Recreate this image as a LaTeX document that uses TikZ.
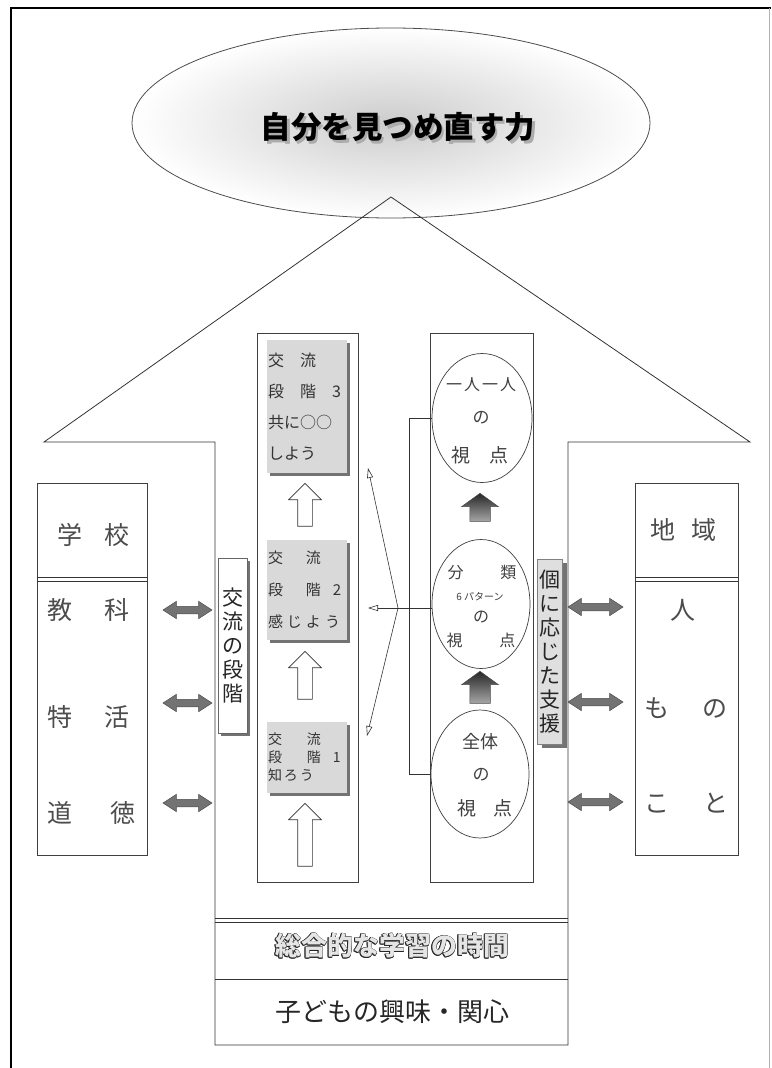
\documentclass[tikz,border=0pt]{standalone}
\usepackage{fontspec}
\setmainfont{Noto Sans CJK JP}
\usetikzlibrary{shapes.geometric,shapes.arrows,arrows.meta,shadows}
\newcommand{\shadowtext}[1]{\makebox[0pt][l]{\hspace{2.5pt}\raisebox{-3pt}{\textcolor{gray!65}{#1}}}#1}
\newcommand{\outltext}[1]{%
  \makebox[0pt][l]{\hspace{-0.9pt}\textcolor{black!85}{#1}}%
  \makebox[0pt][l]{\hspace{0.9pt}\textcolor{black!85}{#1}}%
  \makebox[0pt][l]{\raisebox{0.9pt}{\textcolor{black!85}{#1}}}%
  \makebox[0pt][l]{\raisebox{-0.9pt}{\textcolor{black!85}{#1}}}%
  \makebox[0pt][l]{\hspace{0.7pt}\raisebox{0.7pt}{\textcolor{black!85}{#1}}}%
  \makebox[0pt][l]{\hspace{-0.7pt}\raisebox{-0.7pt}{\textcolor{black!85}{#1}}}%
  \makebox[0pt][l]{\hspace{0.7pt}\raisebox{-0.7pt}{\textcolor{black!85}{#1}}}%
  \makebox[0pt][l]{\hspace{-0.7pt}\raisebox{0.7pt}{\textcolor{black!85}{#1}}}%
  \textcolor{gray!20}{#1}}
\begin{document}
\begin{tikzpicture}[x=1pt,y=-1pt,
  ln/.style={draw=black!80, line width=0.8pt},
  wbox/.style={draw=black!75, line width=0.8pt, fill=white, inner sep=0pt},
  gbox/.style={fill=gray!30, inner xsep=1pt, inner ysep=2pt, align=left, text=black!80, text width=78pt,
    minimum width=80pt,
    drop shadow={shadow xshift=3pt, shadow yshift=-3pt, fill=black!55, opacity=1}},
  hollowup/.style={single arrow, shape border rotate=90, draw=black!80, line width=0.7pt,
    fill=white, inner sep=7pt, single arrow head extend=9pt, single arrow tip angle=90},
  darkup/.style={single arrow, shape border rotate=90, draw=black!70, line width=0.5pt,
    top color=black!85, bottom color=black!35, inner sep=10pt, single arrow head extend=8pt,
    single arrow tip angle=108},
  dblarrow/.style={double arrow, draw=black!70, fill=black!55, line width=0.5pt,
    inner sep=3.5pt, double arrow head extend=5pt, double arrow tip angle=66},
  view/.style={ellipse, draw=black!75, line width=0.7pt, fill=white, inner sep=0pt},
  vtxt/.style={text=black!75, align=center, inner sep=0pt},
  side/.style={text=black!70, inner sep=0pt, font=\fontsize{25}{25}\selectfont},
  vlabel/.style={inner sep=0pt, align=center, font=\fontsize{21}{24}\selectfont, text=black!85},
  fanarrow/.style={draw=black!80, line width=0.6pt, -{Triangle[open, length=10pt, width=6pt]}}
]
\useasboundingbox (0,0) rectangle (771,1068);
% frame
\draw[black, line width=1.6pt] (11,1068) -- (11,8) -- (771,8);
\draw[gray!60, line width=0.8pt] (769,8) -- (769,1068);

% goal ellipse
\node[ellipse, draw=black!70, line width=0.8pt, inner color=gray!40, outer color=white,
  minimum width=518pt, minimum height=190pt, inner sep=0pt] (goal) at (391,123) {};
\node[font=\bfseries\fontsize{30.5}{30.5}\selectfont, text=black] (title) at (398,128) {\shadowtext{自分を見つめ直す力}};

% house outline
\coordinate (apex) at (391,197);
\draw[ln] (215,1045) -- (215,442) -- (44,442) -- (apex) -- (750,442) -- (568,442) -- (568,1045) -- cycle;
\draw[ln] (215,918) -- (568,918);
\draw[ln] (215,922) -- (568,922);
\draw[ln] (215,979) -- (568,979);

% bottom texts
\node[font=\bfseries\fontsize{26}{26}\selectfont] (sougou) at (392,946) {\outltext{総合的な学習の時間}};
\node[font=\fontsize{26}{26}\selectfont, text=black!85] (kodomo) at (392,1012) {子どもの興味・関心};

% left: school box
\node[wbox, minimum width=110pt, minimum height=372pt] (school) at (92,669) {};
\draw[ln] (school.west |- 0,577) -- (school.east |- 0,577);
\draw[ln] (school.west |- 0,581) -- (school.east |- 0,581);
\node[side] (gakkou) at (93.5,535) {学\hspace{22pt}校};
\node[side] (kyouka) at (88.5,610) {教\hspace{32pt}科};
\node[side] (tokkatsu) at (88.5,717) {特\hspace{32pt}活};
\node[side] (doutoku) at (91.5,813) {道\hspace{38pt}徳};

% right: region box
\node[wbox, minimum width=103pt, minimum height=372pt] (region) at (686.5,669) {};
\draw[ln] (region.west |- 0,577) -- (region.east |- 0,577);
\draw[ln] (region.west |- 0,581) -- (region.east |- 0,581);
\node[side] (chiiki) at (683,530) {地\hspace{16pt}域};
\node[side] (hito) at (683,610) {人};
\node[side] (mono) at (686,708) {も\hspace{33pt}の};
\node[side] (koto) at (686.5,803) {こ\hspace{34pt}と};

% double arrows
\node[dblarrow, minimum height=49pt] (dl1) at (187.5,610) {};
\node[dblarrow, minimum height=49pt] (dl2) at (187.5,703) {};
\node[dblarrow, minimum height=49pt] (dl3) at (187.5,803) {};
\node[dblarrow, minimum height=55pt] (dr1) at (595.5,607) {};
\node[dblarrow, minimum height=55pt] (dr2) at (595.5,702) {};
\node[dblarrow, minimum height=55pt] (dr3) at (595.5,802) {};

% vertical labels
\node[wbox, draw=black!60, minimum width=29pt, minimum height=175pt,
  drop shadow={shadow xshift=3pt, shadow yshift=-3pt, fill=black!55, opacity=1}] (lblL) at (232.5,645.5) {};
\node[vlabel] (lblLtxt) at (lblL) {交\\流\\の\\段\\階};
\node[draw=black!50, fill=gray!25, inner sep=0pt, minimum width=25pt, minimum height=185pt,
  drop shadow={shadow xshift=4pt, shadow yshift=-3pt, fill=black!55, opacity=1}] (lblR) at (550,652) {};
\node[vlabel] (lblRtxt) at (lblR) {個\\に\\応\\じ\\た\\支\\援};

% exchange column
\node[wbox, minimum width=101pt, minimum height=549pt] (colL) at (307.5,607.5) {};
\node[gbox, minimum height=133pt, font=\fontsize{16}{31}\selectfont] (stage3) at (307,406.5)
  {交　流\\段　階　3\\共に○○\\しよう};
\node[gbox, minimum height=100pt, font=\fontsize{15}{32}\selectfont] (stage2) at (307,590)
  {交\hspace{23pt}流\\段\hspace{23pt}階\hspace{12pt}2\\感\hspace{4pt}じ\hspace{4pt}よ\hspace{4pt}う};
\node[gbox, minimum height=71pt, font=\fontsize{14}{18}\selectfont] (stage1) at (307,757.5)
  {交\hspace{25pt}流\\段\hspace{25pt}階\hspace{12pt}1\\知\hspace{2pt}ろ\hspace{2pt}う};
\node[hollowup, minimum height=43pt] (up1) at (305,508.5) {};
\node[hollowup, minimum height=48pt] (up2) at (305,679) {};
\node[hollowup, minimum height=63pt] (up3) at (305,838.5) {};

% viewpoint column
\node[wbox, minimum width=103pt, minimum height=549pt] (colR) at (481.5,607.5) {};
\node[view, minimum width=100pt, minimum height=129pt] (e1) at (482,418) {};
\node[view, minimum width=98pt, minimum height=129pt] (e2) at (481,604) {};
\node[view, minimum width=98pt, minimum height=128pt] (e3) at (480,774) {};
\node[vtxt, font=\fontsize{16}{16}\selectfont] (e1a) at (481,385) {一\hspace{2pt}人\hspace{2pt}一\hspace{2pt}人};
\node[vtxt, font=\fontsize{17}{17}\selectfont] (e1b) at (481,418) {の};
\node[vtxt, font=\fontsize{19}{19}\selectfont] (e1c) at (480,455) {視\hspace{20pt}点};
\node[vtxt, font=\fontsize{16}{16}\selectfont] (e2a) at (482,573) {分\hspace{37pt}類};
\node[vtxt, font=\fontsize{10}{10}\selectfont] (e2b) at (480,597) {6 パターン};
\node[vtxt, font=\fontsize{16}{16}\selectfont] (e2c) at (481,617) {の};
\node[vtxt, font=\fontsize{16}{16}\selectfont] (e2d) at (481,640) {視\hspace{37pt}点};
\node[vtxt, font=\fontsize{18}{18}\selectfont] (e3a) at (480,742) {全体};
\node[vtxt, font=\fontsize{17}{17}\selectfont] (e3b) at (481,775) {の};
\node[vtxt, font=\fontsize{19}{19}\selectfont] (e3c) at (485,808) {視\hspace{18pt}点};
\node[darkup, minimum height=28pt] (dk1) at (480,511) {};
\node[darkup, minimum height=32pt] (dk2) at (480,691) {};

% bracket and fan
\draw[ln] (e1.west) -- ++(-22,0) coordinate (bk) |- (e3.west);
\coordinate (fan) at (398,608);
\coordinate (t3) at (368,468);
\coordinate (t2) at (368,608);
\coordinate (t1) at (367,736);
\draw[ln] (fan) -- (fan -| e2.west);
\draw[fanarrow] (fan) -- (t3);
\draw[fanarrow] (fan) -- (t2);
\draw[fanarrow] (fan) -- (t1);
\end{tikzpicture}
\end{document}
